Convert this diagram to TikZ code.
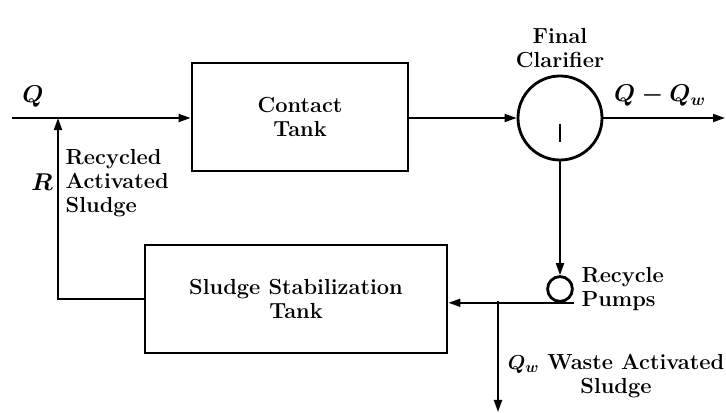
\documentclass[tikz,border=0pt]{standalone}
\usepackage{tikz}
\usetikzlibrary{arrows.meta, positioning}

\begin{document}
\begin{tikzpicture}[
    x=0.025cm, y=-0.025cm,
    font=\bfseries\boldmath\fontsize{15.5}{17}\selectfont,
    tank/.style={rectangle, draw, line width=2pt, align=center},
    vessel/.style={circle, draw, line width=2pt},
    pipe/.style={line width=1.3pt},
    flow/.style={line width=1.3pt, -{Triangle[length=0.3cm, width=0.2cm]}},
    lbl/.style={align=left, inner sep=1pt}
]
    \useasboundingbox (0,0) rectangle (726,413);

    \node[tank, minimum width=5.4cm, minimum height=2.7cm] (contact) at (300,117) {Contact\\Tank};
    \node[tank, minimum width=7.55cm, minimum height=2.7cm] (stab) at (296,299) {Sludge Stabilization\\Tank};
    \node[vessel, minimum size=2.1cm] (clar) at (560,118) {};
    \node[vessel, minimum size=0.62cm] (pump) at (560,289) {};

    \coordinate (in) at (12,118);
    \coordinate (jn) at (58,118);
    \coordinate (out) at (725,118);
    \coordinate (split) at (498,301);
    \coordinate (waste) at (498,412);

    \draw[pipe] (in) -- (jn);
    \draw[flow] (jn) -- (jn -| contact.west);
    \draw[flow] (contact.east |- clar.west) -- (clar.west);
    \draw[flow] (clar.east) -- (out);
    \draw[pipe] ([yshift=-0.15cm]clar.center) -- ([yshift=-0.6cm]clar.center);
    \draw[flow] (clar.south) -- (pump.north);
    \draw[flow] (pump.south -| pump.east) -- (pump.south -| stab.east);
    \draw[flow] (split) -- (waste);
    \draw[flow] (stab.west) -| (jn);

    \node[above=0.05cm of clar, align=center] (clarlbl) {Final\\Clarifier};
    \node[right=0.15cm of pump, lbl] (pumplbl) {Recycle\\Pumps};
    \node (qin) at (33,97) {\fontsize{19}{21}\selectfont$Q$};
    \node (qout) at (660,96) {\fontsize{17}{19}\selectfont$Q - Q_w$};
    \node[lbl, anchor=west] (rlbl) at (64,183) {Recycled\\Activated\\Sludge};
    \node (rate) at (42,182) {\fontsize{17}{19}\selectfont$R$};
    \node[align=center] (wlbl) at (616,376) {$Q_w$ Waste Activated\\Sludge};
\end{tikzpicture}
\end{document}
